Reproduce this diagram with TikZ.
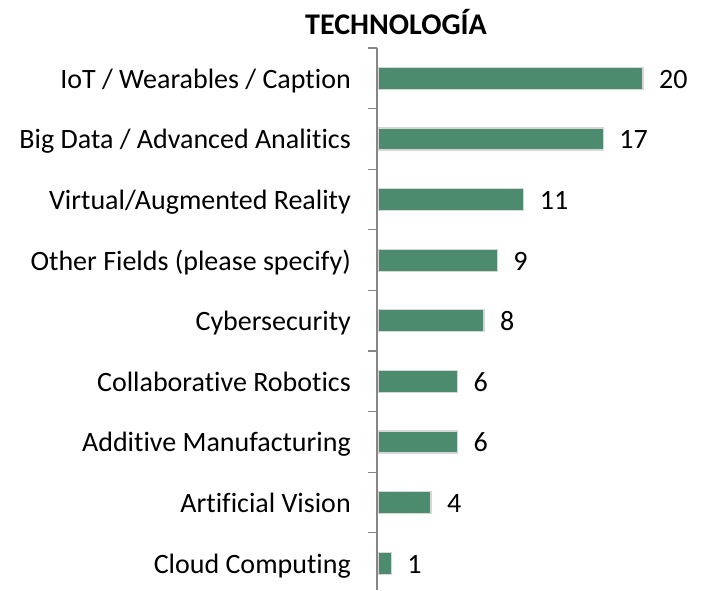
\documentclass[tikz,border=0pt]{standalone}
\usepackage{fontspec}
\setmainfont[Ligatures=NoCommon]{Carlito}
\usetikzlibrary{positioning}
\definecolor{barvert}{RGB}{77,139,110}
\definecolor{axegris}{RGB}{134,134,134}
\tikzset{
  barre/.style={fill=barvert, draw=black!16, line width=1.2pt},
  categorie/.style={anchor=base east, inner sep=0pt, font=\fontsize{28}{32}\selectfont},
  valeur/.style={anchor=base west, inner sep=0pt, font=\fontsize{28}{32}\selectfont},
  axe/.style={axegris, line width=1.3pt}
}
\begin{document}
\begin{tikzpicture}[x=1pt,y=-1pt]
\useasboundingbox (0,0) rectangle (711,590);

%titre
\node[font=\bfseries\fontsize{30}{34}\selectfont] (titre) at (396,22) {TECHNOLOGÍA};

%axes
\coordinate (haut) at (377,48);
\coordinate (bas) at (377,590);
\draw[axe] (haut) -- (bas);
\foreach \i in {0,...,8}
  \draw[axe] (368,48+60.6*\i) -- (377,48+60.6*\i);
%fin

%barres et etiquettes
\foreach \nom/\val [count=\i from 0] in {{IoT / Wearables / Caption}/20,
    {Big Data / Advanced Analitics}/17, {Virtual/Augmented Reality}/11,
    {Other Fields (please specify)}/9, {Cybersecurity}/8,
    {Collaborative Robotics}/6, {Additive Manufacturing}/6,
    {Artificial Vision}/4, {Cloud Computing}/1}
{
  \draw[barre] (378.5,78.3+60.6*\i-11) rectangle ++(13.25*\val-0.5,22);
  \node[categorie] (cat\i) at (351,78.3+60.6*\i+10) {\nom};
  \node[valeur] (val\i) at (378+13.25*\val+16,78.3+60.6*\i+10) {\val};
}
%fin
\end{tikzpicture}
\end{document}
